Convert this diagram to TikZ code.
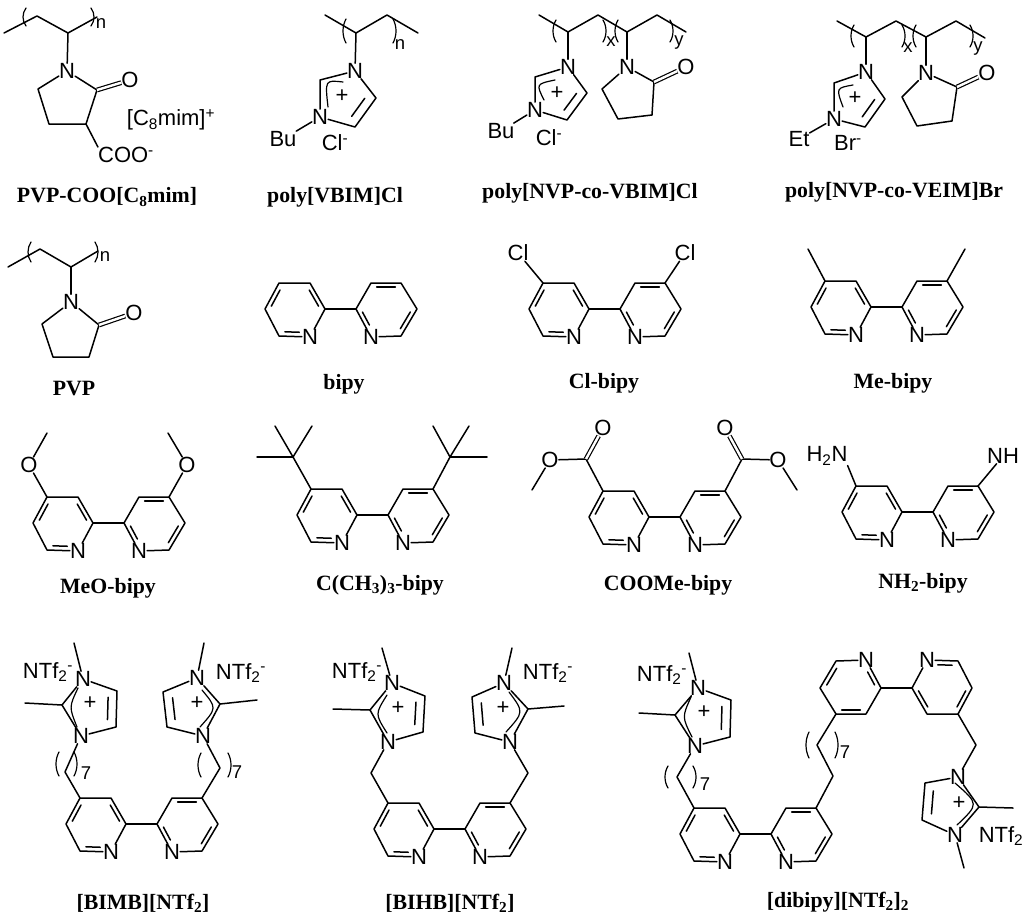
\documentclass[tikz,border=0pt]{standalone}
\usepackage{fontspec}
\setmainfont{Liberation Sans}
\newfontfamily\capfont{Liberation Serif}
\usetikzlibrary{calc}

\tikzset{
    bond/.style={line width=1.5pt, line cap=round, line join=round},
    thinbond/.style={line width=1.2pt, line cap=round},
    dblbond/.style={line width=1.2pt, double, double distance=2.4pt},
    atom/.style={inner sep=0pt, font=\fontsize{22}{24}\selectfont},
    idx/.style={inner sep=0pt, font=\fontsize{18.5}{20}\selectfont},
    capt/.style={inner sep=0pt, font=\capfont\bfseries\fontsize{21.8}{24}\selectfont},
    bipy/.pic={
        \coordinate (-c2l) at (0,0);
        \coordinate (-c3l) at (-15,-26);
        \coordinate (-c4l) at (-46,-26);
        \coordinate (-c5l) at (-60,0);
        \coordinate (-c6l) at (-46,27);
        \node[atom] (-nl) at (-15,28) {N};
        \coordinate (-c2r) at (31,0);
        \coordinate (-c3r) at (46,-26);
        \coordinate (-c4r) at (76,-26);
        \coordinate (-c5r) at (92,0);
        \coordinate (-c6r) at (76,27);
        \node[atom] (-nr) at (46,28) {N};
        \coordinate (-ml) at (-30,0);
        \coordinate (-mr) at (61,0);
        \draw[bond] (-nl) -- (-c2l) -- (-c3l) -- (-c4l) -- (-c5l) -- (-c6l) -- (-nl);
        \draw[bond] (-nr) -- (-c2r) -- (-c3r) -- (-c4r) -- (-c5r) -- (-c6r) -- (-nr);
        \draw[bond] (-c2l) -- (-c2r);
        \inbond{-c2l}{-c3l}{-ml}
        \inbond{-c4l}{-c5l}{-ml}
        \inbondn{-c6l}{-nl}{-ml}
        \inbond{-c3r}{-c4r}{-mr}
        \inbond{-c5r}{-c6r}{-mr}
        \inbondn{-c2r}{-nr}{-mr}
    }
}

% inner line of a double bond, c is the side it lies on
\newcommand{\inbond}[3]{\draw[bond] ($(#1)!.13!(#2)!.16!(#3)$) -- ($(#2)!.13!(#1)!.16!(#3)$);}
\newcommand{\inbondn}[3]{\draw[bond] ($(#1)!.13!(#2)!.16!(#3)$) -- ($(#2)!.32!(#1)!.16!(#3)$);}

% brackets
\newcommand{\lbrak}[3]{\draw[thinbond] (#1+3,#2-#3) .. controls (#1-1,#2-.4*#3) and (#1-1,#2+.4*#3) .. (#1+3,#2+#3);}
\newcommand{\rbrak}[3]{\draw[thinbond] (#1-3,#2-#3) .. controls (#1+1,#2-.4*#3) and (#1+1,#2+.4*#3) .. (#1-3,#2+#3);}

% five ring with two N: name, N1, N3, C2, C4, C5
\newcommand{\imring}[6]{
    \node[atom] (#1n1) at (#2) {N};
    \node[atom] (#1n3) at (#3) {N};
    \coordinate (#1c2) at (#4);
    \coordinate (#1c4) at (#5);
    \coordinate (#1c5) at (#6);
    \draw[bond] (#1n1) -- (#1c2) -- (#1n3) -- (#1c5) -- (#1c4) -- (#1n1);
    \inbond{#1c4}{#1c5}{#1c2}
}

% lactam: name, N, C=O, O, three CH2
\newcommand{\lactam}[7]{
    \node[atom] (#1n) at (#2) {N};
    \coordinate (#1co) at (#3);
    \node[atom] (#1o) at (#4) {O};
    \coordinate (#1a) at (#5);
    \coordinate (#1b) at (#6);
    \coordinate (#1d) at (#7);
    \draw[bond] (#1n) -- (#1co) -- (#1a) -- (#1b) -- (#1d) -- (#1n);
    \draw[dblbond] (#1co) -- (#1o);
}

\begin{document}
\begin{tikzpicture}[x=1pt,y=-1pt]
    \useasboundingbox (0,0) rectangle (1024,918);

    % captions
    \foreach \i/\x/\y/\txt in {
        a/107/197/PVP-COO[C\textsubscript{8}mim],
        b/335/197/poly[VBIM]Cl,
        c/590/193/poly[NVP-co-VBIM]Cl,
        d/894/192/poly[NVP-co-VEIM]Br,
        e/74/389/PVP,
        f/344/384/bipy,
        g/604/383/Cl-bipy,
        h/893/383/Me-bipy,
        j/108/588/MeO-bipy,
        k/380/585/C(CH\textsubscript{3})\textsubscript{3}-bipy,
        l/668/585/COOMe-bipy,
        m/923/583/NH\textsubscript{2}-bipy,
        n/143/903/[BIMB][NTf\textsubscript{2}],
        o/450/903/[BIHB][NTf\textsubscript{2}],
        p/838/902/[dibipy][NTf\textsubscript{2}]\textsubscript{2}} {
        \node[capt] (cap\i) at (\x,\y) {\txt};
    }

    % PVP-COO
    \coordinate (aa) at (4,33);
    \coordinate (ab) at (37,16);
    \coordinate (ac) at (68,33);
    \coordinate (ad) at (97,17);
    \draw[bond] (aa) -- (ab) -- (ac) -- (ad);
    \lbrak{23}{17}{9}
    \rbrak{94}{17}{9}
    \node[idx] (an) at (101,24) {n};
    \lactam{ar}{67,71}{97,90}{130,80}{86,124}{49,124}{38,89}
    \draw[bond] (ac) -- (arn);
    \node[atom] (acoo) at (126,155) {COO\textsuperscript{-}};
    \node[atom] (acat) at (171,120) {[C\textsubscript{8}mim]\textsuperscript{+}};
    \draw[bond] (ara) -- (acoo.north west);

    % poly[VBIM]Cl
    \coordinate (ba) at (325,15);
    \coordinate (bb) at (356,33);
    \coordinate (bc) at (387,15);
    \coordinate (bd) at (418,33);
    \draw[bond] (ba) -- (bb) -- (bc) -- (bd);
    \lbrak{343}{31}{12}
    \rbrak{396}{31}{12}
    \node[idx] (bn) at (400,45) {n};
    \imring{br}{355,71}{320,117}{320,80}{376,98}{355,127}
    \draw[bond] (bb) -- (brn1);
    \draw[thinbond] (343,82) .. controls (325,80) .. (328,107);
    \node[atom] (bplus) at (342,96) {+};
    \node[atom] (bbu) at (283,139) {Bu};
    \node[atom] (bcl) at (335,143) {Cl\textsuperscript{-}};
    \draw[bond] (brn3) -- (bbu);

    % poly[NVP-co-VBIM]Cl
    \coordinate (ca) at (539,15);
    \coordinate (cb) at (568,32);
    \coordinate (cc) at (598,15);
    \coordinate (cd) at (627,32);
    \coordinate (ce) at (657,15);
    \coordinate (cf) at (686,32);
    \draw[bond] (ca) -- (cb) -- (cc) -- (cd) -- (ce) -- (cf);
    \lbrak{553}{31}{11}
    \rbrak{606}{31}{11}
    \lbrak{615}{31}{11}
    \rbrak{673}{31}{11}
    \node[idx] (cx) at (611,42) {x};
    \node[idx] (cy) at (679,43) {y};
    \imring{cr}{568,67}{535,110}{535,77}{587,93}{567,120}
    \draw[bond] (cb) -- (crn1);
    \draw[thinbond] (555,80) .. controls (536,84) .. (544,100);
    \node[atom] (cplus) at (557,93) {+};
    \node[atom] (cbu) at (501,131) {Bu};
    \node[atom] (ccl) at (549,138) {Cl\textsuperscript{-}};
    \draw[bond] (crn3) -- (cbu);
    \lactam{cl}{627,67}{654,82}{686,67}{652,115}{618,119}{602,89}
    \draw[bond] (cd) -- (cln);

    % poly[NVP-co-VEIM]Br
    \coordinate (da) at (837,21);
    \coordinate (db) at (866,37);
    \coordinate (dc) at (896,21);
    \coordinate (dd) at (926,37);
    \coordinate (de) at (956,21);
    \coordinate (df) at (985,38);
    \draw[bond] (da) -- (db) -- (dc) -- (dd) -- (de) -- (df);
    \lbrak{851}{36}{11}
    \rbrak{905}{36}{11}
    \lbrak{913}{36}{11}
    \rbrak{973}{36}{11}
    \node[idx] (dx) at (908,48) {x};
    \node[idx] (dy) at (978,49) {y};
    \imring{dr}{866,72}{834,119}{834,83}{885,99}{865,127}
    \draw[bond] (db) -- (drn1);
    \draw[thinbond] (853,85) .. controls (836,88) .. (843,107);
    \node[atom] (dplus) at (855,98) {+};
    \node[atom] (det) at (799,139) {Et};
    \node[atom] (dbr) at (848,143) {Br\textsuperscript{-}};
    \draw[bond] (drn3) -- (det);
    \lactam{dl}{926,73}{957,87}{987,73}{952,121}{917,126}{902,97}
    \draw[bond] (dd) -- (dln);

    % PVP
    \coordinate (ea) at (8,267);
    \coordinate (eb) at (40,249);
    \coordinate (ec) at (71,267);
    \coordinate (ed) at (98,251);
    \draw[bond] (ea) -- (eb) -- (ec) -- (ed);
    \lbrak{28}{252}{10}
    \rbrak{98}{252}{10}
    \node[idx] (en) at (105,257) {n};
    \lactam{er}{71,302}{99,325}{134,313}{89,357}{53,357}{42,324}
    \draw[bond] (ec) -- (ern);

    % bipy row
    \pic (fb) at (325,309) {bipy};

    \pic (gb) at (589,309) {bipy};
    \node[atom] (gcll) at (518,253) {Cl};
    \node[atom] (gclr) at (685,253) {Cl};
    \draw[bond] (gb-c4l) -- (gcll);
    \draw[bond] (gb-c4r) -- (gclr);

    \pic (hb) at (871,307) {bipy};
    \coordinate (hml) at (808,249);
    \coordinate (hmr) at (965,249);
    \draw[bond] (hb-c4l) -- (hml);
    \draw[bond] (hb-c4r) -- (hmr);

    \pic (jb) at (93,523) {bipy};
    \node[atom] (jol) at (29,465) {O};
    \node[atom] (jor) at (187,465) {O};
    \coordinate (jml) at (47,433);
    \coordinate (jmr) at (168,433);
    \draw[bond] (jb-c4l) -- (jol) -- (jml);
    \draw[bond] (jb-c4r) -- (jor) -- (jmr);

    \pic (kb) at (357,515) {bipy};
    \coordinate (kql) at (293,457);
    \coordinate (kqr) at (450,457);
    \draw[bond] (kb-c4l) -- (kql);
    \draw[bond] (kb-c4r) -- (kqr);
    \foreach \x/\y in {275/426,312/426,257/457} {
        \coordinate (kend) at (\x,\y);
        \draw[bond] (kql) -- (kend);
    }
    \foreach \x/\y in {433/426,469/426,487/457} {
        \coordinate (kend) at (\x,\y);
        \draw[bond] (kqr) -- (kend);
    }

    \pic (lb) at (649,517) {bipy};
    \coordinate (lcl) at (586,459);
    \coordinate (lcr) at (742,459);
    \node[atom] (lotl) at (603,428) {O};
    \node[atom] (lotr) at (725,428) {O};
    \node[atom] (loel) at (550,460) {O};
    \node[atom] (loer) at (778,460) {O};
    \coordinate (lml) at (532,490);
    \coordinate (lmr) at (797,490);
    \draw[bond] (lb-c4l) -- (lcl) -- (loel) -- (lml);
    \draw[bond] (lb-c4r) -- (lcr) -- (loer) -- (lmr);
    \draw[dblbond] (lcl) -- (lotl);
    \draw[dblbond] (lcr) -- (lotr);

    \pic (mb) at (902,512) {bipy};
    \node[atom] (mnl) at (827,456) {H\textsubscript{2}N};
    \node[atom] (mnr) at (1003,456) {NH};
    \draw[bond] (mb-c4l) -- (mnl.south east);
    \draw[bond] (mb-c4r) -- (mnr);

    % [BIMB][NTf2]
    \pic (nb) at (126,824) {bipy};
    \imring{nl}{83,679}{81,736}{62,705}{117,691}{116,727}
    \imring{nr}{197,678}{203,736}{220,704}{163,692}{167,727}
    \coordinate (nml) at (25,703);
    \coordinate (nmr) at (257,700);
    \coordinate (nel) at (74,643);
    \coordinate (ner) at (204,643);
    \coordinate (nhl) at (65,772);
    \coordinate (nhr) at (220,768);
    \draw[bond] (nlc2) -- (nml);
    \draw[bond] (nrc2) -- (nmr);
    \draw[bond] (nln1) -- (nel);
    \draw[bond] (nrn1) -- (ner);
    \draw[bond] (nb-c4l) -- (nhl) -- (nln3);
    \draw[bond] (nb-c4r) -- (nhr) -- (nrn3);
    \draw[thinbond] (78,688) .. controls (69,707) .. (77,727);
    \draw[thinbond] (202,690) .. controls (217,708) .. (200,727);
    \node[atom] (npl) at (90,703) {+};
    \node[atom] (npr) at (197,703) {+};
    \node[atom] (nal) at (48,672) {NTf\textsubscript{2}\textsuperscript{-}};
    \node[atom] (nar) at (241,673) {NTf\textsubscript{2}\textsuperscript{-}};
    \lbrak{56}{764}{12}
    \rbrak{77}{764}{12}
    \lbrak{198}{765}{12}
    \rbrak{231}{765}{12}
    \node[idx] (n7l) at (86,773) {7};
    \node[idx] (n7r) at (237,772) {7};

    % [BIHB][NTf2]
    \pic (ob) at (434,829) {bipy};
    \imring{ol}{392,683}{388,742}{370,710}{425,696}{423,732}
    \imring{or}{504,683}{510,742}{528,709}{472,697}{475,733}
    \coordinate (oml) at (333,709);
    \coordinate (omr) at (564,706);
    \coordinate (oel) at (382,648);
    \coordinate (oer) at (512,648);
    \coordinate (ohl) at (371,773);
    \coordinate (ohr) at (528,773);
    \draw[bond] (olc2) -- (oml);
    \draw[bond] (orc2) -- (omr);
    \draw[bond] (oln1) -- (oel);
    \draw[bond] (orn1) -- (oer);
    \draw[bond] (ob-c4l) -- (ohl) -- (oln3);
    \draw[bond] (ob-c4r) -- (ohr) -- (orn3);
    \draw[thinbond] (387,695) .. controls (375,714) .. (387,733);
    \draw[thinbond] (509,692) .. controls (524,712) .. (506,732);
    \node[atom] (opl) at (398,708) {+};
    \node[atom] (opr) at (503,708) {+};
    \node[atom] (oal) at (357,672) {NTf\textsubscript{2}\textsuperscript{-}};
    \node[atom] (oar) at (548,673) {NTf\textsubscript{2}\textsuperscript{-}};

    % [dibipy][NTf2]2
    \pic (pb) at (740,834) {bipy};
    \pic[rotate=180] (qb) at (912,688) {bipy};
    \imring{pl}{698,688}{695,746}{675,715}{731,700}{730,737}
    \imring{pr}{958,777}{955,835}{979,807}{925,783}{922,820}
    \coordinate (pml) at (639,713);
    \coordinate (pmr) at (1013,808);
    \coordinate (pel) at (689,653);
    \coordinate (per) at (964,868);
    \coordinate (phl) at (677,777);
    \coordinate (phr) at (976,745);
    \coordinate (pha) at (833,776);
    \coordinate (phb) at (817,745);
    \draw[bond] (plc2) -- (pml);
    \draw[bond] (prc2) -- (pmr);
    \draw[bond] (pln1) -- (pel);
    \draw[bond] (prn3) -- (per);
    \draw[bond] (pb-c4l) -- (phl) -- (pln3);
    \draw[bond] (qb-c4l) -- (phr) -- (prn1);
    \draw[bond] (pb-c4r) -- (pha) -- (phb) -- (qb-c4r);
    \draw[thinbond] (691,697) .. controls (682,717) .. (692,737);
    \draw[thinbond] (955,783) .. controls (979,804) .. (957,825);
    \node[atom] (ppl) at (704,712) {+};
    \node[atom] (ppr) at (959,803) {+};
    \node[atom] (pal) at (662,675) {NTf\textsubscript{2}\textsuperscript{-}};
    \node[atom] (par) at (1001,836) {NTf\textsubscript{2}};
    \lbrak{665}{777}{11}
    \rbrak{696}{777}{11}
    \lbrak{806}{745}{13}
    \rbrak{838}{745}{13}
    \node[idx] (p7l) at (705,784) {7};
    \node[idx] (p7r) at (845,752) {7};
\end{tikzpicture}
\end{document}
